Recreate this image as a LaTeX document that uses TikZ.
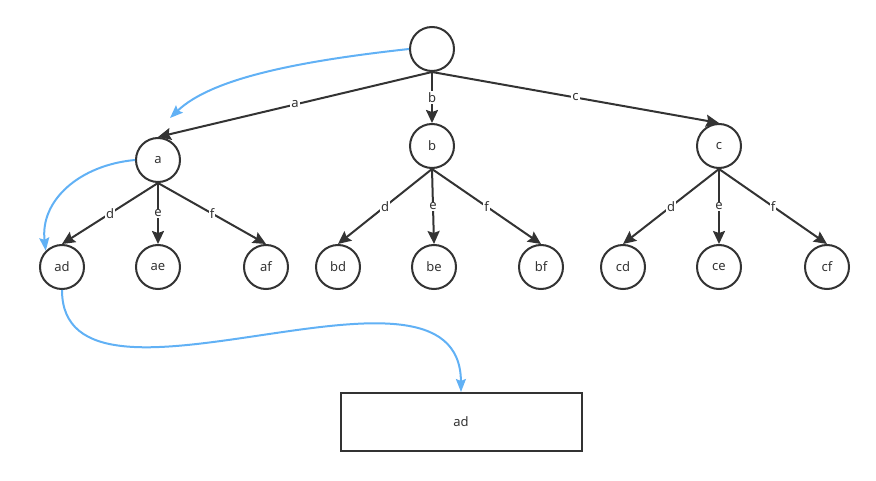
\documentclass[tikz,border=0pt]{standalone}
\usepackage{fontspec}
\setmainfont{Noto Sans}
\usepackage{xcolor}
\usepackage{tikz}
\usetikzlibrary{arrows.meta}

\definecolor{treeblack}{HTML}{333333}
\definecolor{linkblue}{HTML}{61B1F5}

\tikzset{
  state/.style={circle,draw=treeblack,line width=2pt,minimum size=44pt,inner sep=0pt,text=treeblack},
  trans/.style={draw=treeblack,line width=2pt,-{Stealth[length=13pt,width=12pt,inset=2pt]}},
  jump/.style={draw=linkblue,line width=2pt,-{Stealth[length=13pt,width=10pt,inset=2pt]}},
  lbl/.style={fill=white,inner sep=1pt,text=treeblack}
}

\begin{document}
\begin{tikzpicture}[x=1pt,y=-1pt,font=\fontsize{13}{15}\selectfont]
      \useasboundingbox (0,0) rectangle (876,481);
      \node [state] (root) at (432,49) {};
      \node [state] (a) at (158,160) {a};
      \node [state] (b) at (432,146) {b};
      \node [state] (c) at (719,146) {c};
      \draw [trans] (root.south) -- node [lbl] {a} (a.north);
      \draw [trans] (root.south) -- node [lbl] {b} (b.north);
      \draw [trans] (root.south) -- node [lbl] {c} (c.north);
      \foreach \p/\s/\x in {a/d/62,a/e/158,a/f/266,b/d/338,b/e/434,b/f/541,c/d/623,c/e/719,c/f/827} {
        \node [state] (\p\s) at (\x,267) {\p\s};
        \draw [trans] (\p.south) -- node [lbl] {\s} (\p\s.north);
      }
      \node [draw=treeblack,line width=2pt,minimum width=241pt,minimum height=58pt,text=treeblack] (res) at (461,422) {ad};
      \coordinate (toA) at (170,118);
      \draw [jump] (root.west) .. controls (290,62) and (210,80) .. (toA);
      \draw [jump] (a.west) .. controls (80,165) and (40,200) .. (ad.north west);
      \draw [jump] (ad.south) .. controls (62,440) and (460,230) .. (res.north);
    \end{tikzpicture}
\end{document}
